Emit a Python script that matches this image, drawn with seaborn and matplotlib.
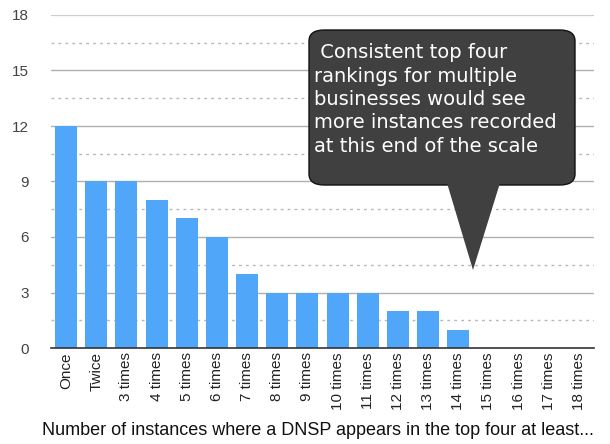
import matplotlib
matplotlib.use("Agg")
import matplotlib.pyplot as plt
import numpy as np
import pandas as pd
import seaborn as sns
from matplotlib.patches import FancyBboxPatch, Polygon

categories = ["Once", "Twice", "3 times", "4 times", "5 times", "6 times", "7 times",
              "8 times", "9 times", "10 times", "11 times", "12 times", "13 times",
              "14 times", "15 times", "16 times", "17 times", "18 times"]
counts = [12, 9, 9, 8, 7, 6, 4, 3, 3, 3, 3, 2, 2, 1, 0, 0, 0, 0]
y_ticks = [0, 3, 6, 9, 12, 15, 18]
x_label = "Number of instances where a DNSP appears in the top four at least..."
callout_text = (" Consistent top four\nrankings for multiple\nbusinesses would see\n"
                "more instances recorded\nat this end of the scale")

sns.set_style("white")
plt.rcParams["font.family"] = ["Liberation Sans", "DejaVu Sans"]

df = pd.DataFrame({"category": categories, "count": counts})

fig = plt.figure(figsize=(6.10, 4.44), dpi=100)
ax = fig.add_axes([51 / 610, 96 / 444, 543 / 610, 333 / 444])

# gridlines: solid at labelled ticks, dotted halfway between
for v in y_ticks[1:]:
    ax.axhline(v, color="#cccccc" if v == 18 else "#b0b0b0",
               lw=1.6 if v == 18 else 1.0, zorder=0)
for v in np.array(y_ticks[:-1]) + 1.5:
    ax.axhline(v, color="#b8b8b8", lw=1.0, ls=(0, (2, 3)), zorder=0)

sns.barplot(data=df, x="category", y="count", color="#50a6f8",
            width=0.73, saturation=1, linewidth=0, ax=ax, zorder=2)

ax.set_ylim(0, 18)
ax.set_xlim(-0.5, len(categories) - 0.5)
ax.set_yticks(y_ticks)
ax.tick_params(axis="y", length=0, labelsize=11, pad=16)
ax.tick_params(axis="x", length=0, labelsize=11, pad=3)
ax.set_xticks(range(len(categories)))
ax.set_xticklabels(categories, rotation=90, color="#222222")
for lab in ax.get_yticklabels():
    lab.set_color("#444444")
ax.set_xlabel("")
ax.set_ylabel("")
for side in ["top", "right", "left"]:
    ax.spines[side].set_visible(False)
ax.spines["bottom"].set_color("#333333")
ax.spines["bottom"].set_linewidth(1.2)

fig.text(318 / 610, 5 / 444, x_label, ha="center", va="bottom", fontsize=13,
         color="#111111")

# callout bubble
box = FancyBboxPatch((309 / 610, (444 - 185) / 444), 266 / 610, 155 / 444,
                     boxstyle="round,pad=0,rounding_size=0.025",
                     transform=fig.transFigure, facecolor="#404040",
                     edgecolor="#111111", lw=1.0, zorder=5)
fig.patches.append(box)
tail = Polygon([(447 / 610, (444 - 183) / 444), (500 / 610, (444 - 183) / 444),
                (473 / 610, (444 - 270) / 444)], closed=True,
               transform=fig.transFigure, facecolor="#404040", edgecolor="none",
               zorder=6)
fig.patches.append(tail)
fig.text(314 / 610, (444 - 43) / 444, callout_text, ha="left", va="top",
         fontsize=14, color="white", family=["DejaVu Sans"],
         linespacing=1.3, zorder=7)

fig.savefig("out.png", dpi=100)
